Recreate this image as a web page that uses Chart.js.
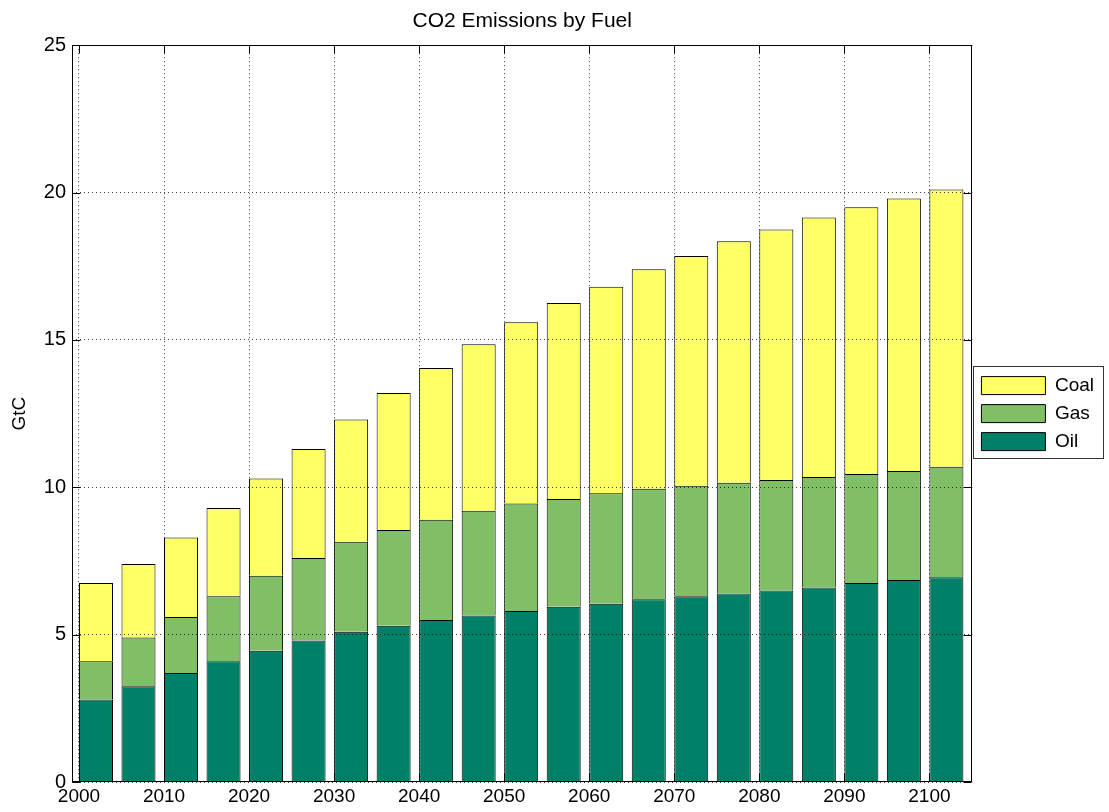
<!DOCTYPE html>
<html>
<head>
<meta charset="utf-8">
<title>CO2 Emissions by Fuel</title>
<script src="https://cdn.jsdelivr.net/npm/chart.js@4.4.0/dist/chart.umd.min.js"></script>
<style>
  html, body { margin: 0; padding: 0; background: #fff; }
  #chart { display: block; }
</style>
</head>
<body>
<canvas id="chart" width="1109" height="812"></canvas>
<script>
// values (GtC)
const years = [2000, 2005, 2010, 2015, 2020, 2025, 2030, 2035, 2040, 2045, 2050,
               2055, 2060, 2065, 2070, 2075, 2080, 2085, 2090, 2095, 2100];
const oil  = [2.8, 3.25, 3.7, 4.1, 4.45, 4.8, 5.1, 5.3, 5.5, 5.65, 5.8,
              5.95, 6.05, 6.2, 6.3, 6.4, 6.5, 6.6, 6.75, 6.85, 6.95];
const gas  = [1.3, 1.65, 1.9, 2.2, 2.55, 2.8, 3.05, 3.25, 3.4, 3.55, 3.65,
              3.65, 3.75, 3.75, 3.75, 3.75, 3.75, 3.75, 3.7, 3.7, 3.75];
const coal = [2.65, 2.5, 2.7, 3.0, 3.3, 3.7, 4.15, 4.65, 5.15, 5.65, 6.15,
              6.65, 7.0, 7.45, 7.8, 8.2, 8.5, 8.8, 9.05, 9.25, 9.4];

// the original axis puts its ticks at the left edge of every other bar
const xTickValues = [1998, 2008, 2018, 2028, 2038, 2048, 2058, 2068, 2078, 2088, 2098];
const xTickLabels = ['2000', '2010', '2020', '2030', '2040', '2050', '2060', '2070', '2080', '2090', '2100'];

const FONT = "'Liberation Sans', Arial, Helvetica, sans-serif";

const toPoints = vals => vals.map((v, i) => ({ x: years[i], y: v }));

// box around the axes, inward tick marks and the legend frame
const matlabFrame = {
  id: 'matlabFrame',
  afterDraw(chart) {
    const { ctx, chartArea: a, scales: { x, y } } = chart;
    const L = Math.round(a.left) + 0.5, R = Math.round(a.right) - 0.5;
    const T = Math.round(a.top) + 0.5, B = Math.round(a.bottom) - 0.5;
    ctx.save();
    ctx.strokeStyle = '#000';
    ctx.lineWidth = 1;
    ctx.strokeRect(L, T, R - L, B - T);
    ctx.beginPath();
    x.ticks.forEach(t => {
      const px = Math.round(x.getPixelForValue(t.value)) + 0.5;
      ctx.moveTo(px, B); ctx.lineTo(px, B - 8);
      ctx.moveTo(px, T); ctx.lineTo(px, T + 8);
    });
    y.ticks.forEach(t => {
      const py = Math.round(y.getPixelForValue(t.value)) + 0.5;
      ctx.moveTo(L, py); ctx.lineTo(L + 8, py);
      ctx.moveTo(R, py); ctx.lineTo(R - 8, py);
    });
    ctx.stroke();

    const lg = chart.legend;
    const hb = lg.legendHitBoxes;
    if (hb && hb.length) {
      const last = hb[hb.length - 1];
      const top = Math.round(hb[0].top - 10) + 0.5;
      const bottom = Math.round(last.top + last.height + 7) + 0.5;
      const left = Math.round(lg.left) + 1.5;
      const right = Math.round(lg.right) - 0.5;
      ctx.strokeStyle = '#333';
      ctx.strokeRect(left, top, right - left, bottom - top);
    }
    ctx.restore();
  }
};

new Chart(document.getElementById('chart').getContext('2d'), {
  type: 'bar',
  data: {
    datasets: [
      { label: 'Oil',  data: toPoints(oil),  backgroundColor: '#008066', borderColor: '#000', borderWidth: 1, inflateAmount: 0 },
      { label: 'Gas',  data: toPoints(gas),  backgroundColor: '#80BF66', borderColor: '#000', borderWidth: 1, inflateAmount: 0 },
      { label: 'Coal', data: toPoints(coal), backgroundColor: '#FFFF66', borderColor: '#000', borderWidth: 1, inflateAmount: 0 }
    ]
  },
  options: {
    responsive: false,
    animation: false,
    devicePixelRatio: 1,
    barPercentage: 0.8,
    categoryPercentage: 1.0,
    layout: { padding: { left: 0, right: 5, top: 0, bottom: 0 } },
    plugins: {
      title: {
        display: true,
        text: 'CO2 Emissions by Fuel',
        fullSize: false,
        color: '#000',
        font: { family: FONT, size: 21, weight: 'normal' },
        padding: { top: 9, bottom: 11 }
      },
      legend: {
        position: 'right',
        fullSize: false,
        reverse: true,
        labels: {
          color: '#000',
          font: { family: FONT, size: 19 },
          boxWidth: 64,
          boxHeight: 18,
          padding: 9
        }
      },
      tooltip: { enabled: false }
    },
    scales: {
      x: {
        type: 'linear',
        stacked: true,
        offset: false,
        min: 1997.18,
        max: 2103.06,
        afterBuildTicks: scale => { scale.ticks = xTickValues.map(v => ({ value: v })); },
        afterFit: scale => { scale.height = 30; },
        ticks: {
          autoSkip: false,
          maxRotation: 0,
          padding: 3,
          color: '#000',
          font: { family: FONT, size: 19 },
          callback: (value, index) => xTickLabels[index]
        },
        grid: { offset: false, color: 'rgba(0,0,0,0.75)', drawTicks: false, z: 1 },
        border: { display: false, dash: [1, 3] }
      },
      y: {
        stacked: true,
        min: 0,
        max: 25,
        afterFit: scale => { scale.width = 72; },
        ticks: {
          stepSize: 5,
          padding: 6,
          color: '#000',
          font: { family: FONT, size: 20 }
        },
        grid: { color: 'rgba(0,0,0,0.75)', drawTicks: false, z: 1 },
        border: { display: false, dash: [1, 3] },
        title: {
          display: true,
          text: 'GtC',
          color: '#000',
          font: { family: FONT, size: 19 },
          padding: { top: 8, bottom: 0 }
        }
      }
    }
  },
  plugins: [matlabFrame]
});
</script>
</body>
</html>
